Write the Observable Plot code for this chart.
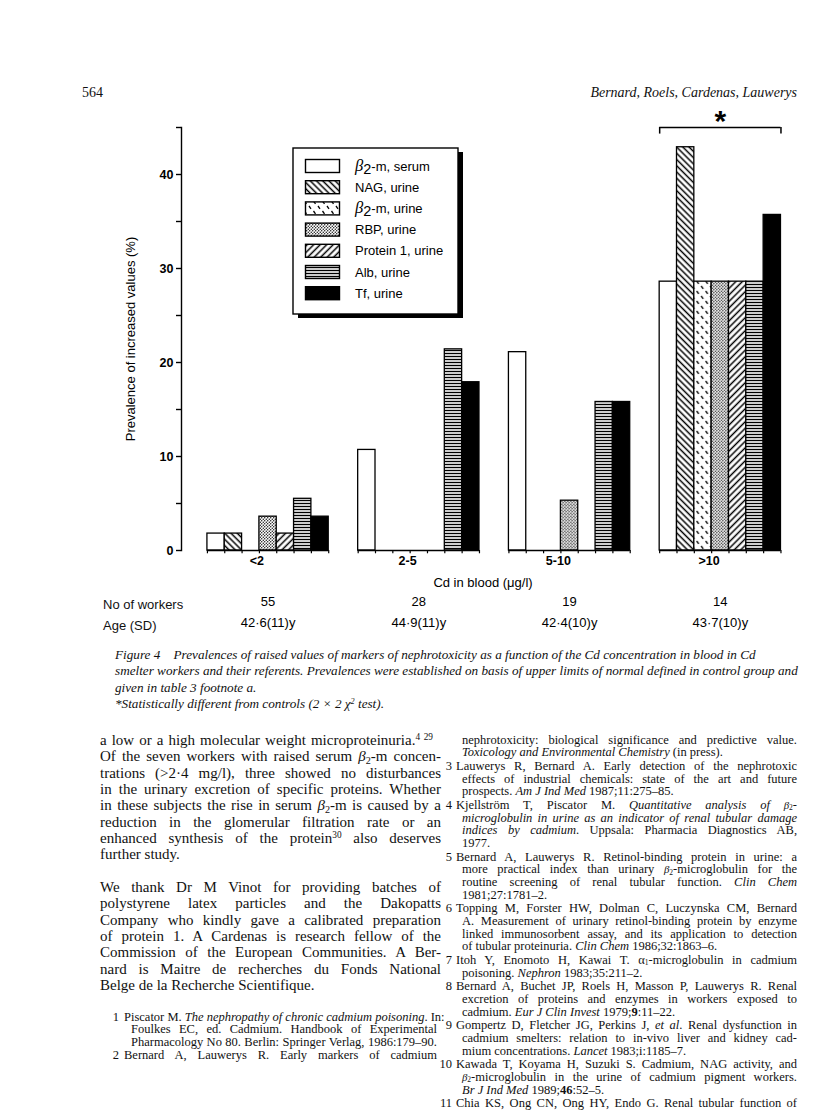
<!DOCTYPE html>
<html><head><meta charset="utf-8">
<script src="https://cdn.jsdelivr.net/npm/d3@7"></script>
<script src="https://cdn.jsdelivr.net/npm/@observablehq/plot@0.6"></script>
<style>
body{margin:0;background:#fff;}
#page{position:relative;width:816px;height:1114px;overflow:hidden;background:#fff;color:#111;}
.ln{position:absolute;white-space:nowrap;}
.serif{font-family:"Liberation Serif","DejaVu Serif",serif;}
.sans{font-family:"Liberation Sans",Arial,sans-serif;}
.j{text-align:justify;text-align-last:justify;}
sub{font-size:0.68em;vertical-align:baseline;position:relative;top:0.28em;line-height:0;}
sup{font-size:0.62em;vertical-align:baseline;position:relative;top:-0.55em;line-height:0;}
.z{display:inline-block;height:0;line-height:0;}
.rf .gb{font-size:0.86em;}
.rf sub{font-size:0.6em;top:0.18em;}
#chart{position:absolute;left:0;top:100px;}
</style></head><body><div id="page"></div>
<script>
// ---- data ----
const groups = ["<2", "2-5", "5-10", ">10"];
const series = ["β2-m, serum", "NAG, urine", "β2-m, urine", "RBP, urine", "Protein 1, urine", "Alb, urine", "Tf, urine"];
const serumB2m = [1.8, 10.7, 21.1, 28.6];
const urineNAG = [1.8, 0, 0, 42.9];
const urineB2m = [0, 0, 0, 28.6];
const urineRBP = [3.6, 0, 5.3, 28.6];
const urineP1 = [1.8, 0, 0, 28.6];
const urineAlb = [5.5, 21.4, 15.8, 28.6];
const urineTf = [3.6, 17.9, 15.8, 35.7];
const workers = [55, 28, 19, 14];
const ages = ["42·6(11)y", "44·9(11)y", "42·4(10)y", "43·7(10)y"];
const yTicks = [0, 5, 10, 15, 20, 25, 30, 35, 40, 45];
const yTickLabels = [0, 10, 20, 30, 40];
const signifGroup = ">10";
const yTitle = "Prevalence of increased values (%)";
const xTitle = "Cd in blood (μg/l)";

const valueArrays = [serumB2m, urineNAG, urineB2m, urineRBP, urineP1, urineAlb, urineTf];
const table = [];
series.forEach((s, i) => groups.forEach((g, j) => table.push({group: g, series: s, value: valueArrays[i][j]})));
const fills = ["#fff", "url(#pNAG)", "url(#pB2U)", "url(#pRBP)", "url(#pP1)", "url(#pALB)", "#000"];

const page = document.getElementById("page");

// ---- patterns + legend (d3) ----
const lsvg = d3.select(page).append("svg").attr("width", 190).attr("height", 190)
  .style("position", "absolute").style("left", "285px").style("top", "140px").style("z-index", 2);
const defs = lsvg.append("defs");
function linePattern(id, angle, sp, sw) {
  const p = defs.append("pattern").attr("id", id).attr("patternUnits", "userSpaceOnUse")
    .attr("width", sp).attr("height", sp).attr("patternTransform", `rotate(${angle})`);
  p.append("rect").attr("width", sp).attr("height", sp).attr("fill", "#fff");
  p.append("line").attr("x1", sp / 2).attr("x2", sp / 2).attr("y1", -1).attr("y2", sp + 1)
    .attr("stroke", "#000").attr("stroke-width", sw);
}
linePattern("pNAG", -45, 4.4, 1.5);
linePattern("pP1", 45, 4.6, 1.5);
{
  const p = defs.append("pattern").attr("id", "pALB").attr("patternUnits", "userSpaceOnUse").attr("width", 4).attr("height", 3);
  p.append("rect").attr("width", 4).attr("height", 3).attr("fill", "#fff");
  p.append("line").attr("x1", -1).attr("x2", 5).attr("y1", 1.5).attr("y2", 1.5).attr("stroke", "#000").attr("stroke-width", 1.4);
}
{
  const p = defs.append("pattern").attr("id", "pRBP").attr("patternUnits", "userSpaceOnUse").attr("width", 3).attr("height", 3);
  p.append("rect").attr("width", 3).attr("height", 3).attr("fill", "#fff");
  p.append("circle").attr("cx", 0.75).attr("cy", 0.75).attr("r", 0.7).attr("fill", "#000");
  p.append("circle").attr("cx", 2.25).attr("cy", 2.25).attr("r", 0.7).attr("fill", "#000");
}
{
  const p = defs.append("pattern").attr("id", "pB2U").attr("patternUnits", "userSpaceOnUse").attr("width", 9).attr("height", 10);
  p.append("rect").attr("width", 9).attr("height", 10).attr("fill", "#fff");
  p.append("line").attr("x1", 1.5).attr("y1", 1).attr("x2", 3.5).attr("y2", 3.8).attr("stroke", "#000").attr("stroke-width", 1.3);
  p.append("line").attr("x1", 6).attr("y1", 6).attr("x2", 8).attr("y2", 8.8).attr("stroke", "#000").attr("stroke-width", 1.3);
}
// legend box with shadow
lsvg.append("rect").attr("x", 13).attr("y", 12).attr("width", 165).attr("height", 166).attr("fill", "#000");
lsvg.append("rect").attr("x", 8).attr("y", 8).attr("width", 165).attr("height", 166).attr("fill", "#fff").attr("stroke", "#000").attr("stroke-width", 1.4);
series.forEach((s, i) => {
  const cy = 26 + 21.2 * i;
  lsvg.append("rect").attr("x", 20.5).attr("y", cy - 6.5).attr("width", 34).attr("height", 13)
    .attr("fill", fills[i]).attr("stroke", "#000").attr("stroke-width", 1.4);
  const t = lsvg.append("text").attr("x", 70).attr("y", cy + 4.5).attr("font-family", "Liberation Sans, Arial, sans-serif")
    .attr("font-size", 13).attr("fill", "#000");
  if (s.startsWith("β2")) {
    t.append("tspan").attr("font-family", "Liberation Serif, serif").attr("font-style", "italic").attr("font-size", 16.5).text("β");
    t.append("tspan").attr("font-size", 14.5).attr("dy", 3).text("2");
    t.append("tspan").attr("dy", -3).text(s.slice(2));
  } else t.text(s);
});

// ---- chart (Plot) ----
const W = 816, H = 540, ML = 181, MR = 32, MT = 27, MB = H - MT - 423;
const PO = 0.85, AL = 0.88;
const F = (W - ML - MR) / groups.length;
const step = F / (series.length + 2 * PO);
const SANS = "Liberation Sans, Arial, sans-serif";
const last = series[series.length - 1];

const chart = Plot.plot({
  width: W, height: H, marginLeft: ML, marginRight: MR, marginTop: MT, marginBottom: MB,
  style: {fontFamily: SANS, background: "transparent", color: "#000", overflow: "visible"},
  fx: {domain: groups, padding: 0, round: false},
  x: {domain: series, paddingInner: 0, paddingOuter: PO, align: AL, round: false, axis: null},
  y: {domain: [0, 45]},
  color: {domain: series, range: fills},
  marks: [
    Plot.frame({anchor: "left", facetAnchor: "left", strokeWidth: 1.4}),
    Plot.axisY({ticks: yTicks, tickSize: 5, tickPadding: 3, strokeWidth: 1.4,
      tickFormat: d => yTickLabels.includes(d) ? String(d) : "", fontWeight: "bold", fontSize: 12.5, label: null}),
    Plot.axisY({ticks: [], tickSize: 0, label: yTitle, labelAnchor: "center", labelArrow: "none", labelOffset: 56, fontSize: 13}),
    Plot.axisFx({anchor: "bottom", tickSize: 0, tickPadding: 6, fontWeight: "bold", fontSize: 12.5, label: null}),
    Plot.axisFx({anchor: "bottom", ticks: [], tickSize: 0, label: xTitle, labelAnchor: "center", labelArrow: "none", labelOffset: 36, fontSize: 13}),
    Plot.barY(table, {fx: "group", x: "series", y: "value", fill: "series", stroke: "#000", strokeWidth: 1.3}),
    Plot.ruleY(groups, {fx: d => d, x1: () => series[0], x2: () => last, y: 0, strokeWidth: 1.4}),
    Plot.ruleX(table, {fx: "group", x: "series", y1: 0, y2: -0.35, dx: -step / 2, strokeWidth: 1.2}),
    Plot.ruleX(groups, {fx: d => d, x: () => last, y1: 0, y2: -0.35, dx: step / 2, strokeWidth: 1.2}),
    Plot.ruleY([signifGroup], {fx: d => d, x1: () => series[0], x2: () => last, y: 45, strokeWidth: 1.5}),
    Plot.ruleX([signifGroup], {fx: d => d, x: () => series[0], y1: 45, y2: 44.3, dx: -step / 2, strokeWidth: 1.5}),
    Plot.ruleX([signifGroup], {fx: d => d, x: () => last, y1: 45, y2: 44.3, dx: step / 2, strokeWidth: 1.5}),
    Plot.text([signifGroup], {fx: d => d, x: () => series[3], y: 45.7, text: () => "*", fontSize: 30, fontWeight: "bold"}),
    Plot.text(groups, {fx: d => d, x: () => series[3], frameAnchor: "bottom", dy: 55, text: (d, i) => String(workers[i]), fontSize: 13}),
    Plot.text(groups, {fx: d => d, x: () => series[3], frameAnchor: "bottom", dy: 76, text: (d, i) => ages[i], fontSize: 13})
  ]
});
chart.id = "chart";
page.appendChild(chart);

// ---- page text ----
function line(html, x, y, o = {}) {
  const d = document.createElement("div");
  const lh = o.lh || 16;
  d.className = "ln " + (o.cls || "serif") + (o.w ? " j" : "");
  d.style.left = x + "px";
  d.style.top = (y - lh / 2) + "px";
  d.style.lineHeight = lh + "px";
  d.style.height = lh + "px";
  d.style.fontSize = (o.fs || 15) + "px";
  if (o.w) d.style.width = o.w + "px";
  if (o.italic) d.style.fontStyle = "italic";
  if (o.right) { d.style.left = ""; d.style.right = (816 - o.right) + "px"; }
  d.innerHTML = html;
  page.appendChild(d);
}
line("564", 82, 93, {fs: 14});
line("Bernard, Roels, Cardenas, Lauwerys", 0, 93, {fs: 14, italic: true, right: 797});
line("No of workers", 103, 605, {cls: "sans", fs: 13});
line("Age (SD)", 103, 626, {cls: "sans", fs: 13});

const cap = [
  "Figure 4&nbsp;&nbsp;&nbsp; Prevalences of raised values of markers of nephrotoxicity as a function of the Cd concentration in blood in Cd",
  "smelter workers and their referents. Prevalences were established on basis of upper limits of normal defined in control group and",
  "given in table 3 footnote a.",
  "*Statistically different from controls (2 × 2 χ<sup>2</sup> test)."
];
cap.forEach((t, i) => line(t, 115, 655 + 16.4 * i, {fs: 13.2, italic: true}));

const b2 = '<i class="z gb">β</i><sub class="z">2</sub>';
const leftBody = [
  ["a low or a high molecular weight microproteinuria.<sup>4 29</sup>", 333],
  ["Of the seven workers with raised serum " + b2 + "-m concen-", 341],
  ["trations (&gt;2·4 mg/l), three showed no disturbances", 341],
  ["in the urinary excretion of specific proteins. Whether", 341],
  ["in these subjects the rise in serum " + b2 + "-m is caused by a", 341],
  ["reduction in the glomerular filtration rate or an", 341],
  ["enhanced synthesis of the protein<sup>30</sup> also deserves", 341],
  ["further study.", 0]
];
leftBody.forEach(([t, w], i) => line(t, 100, 740 + 16.3 * i, {w, fs: 15}));
const leftBody2 = [
  ["We thank Dr M Vinot for providing batches of", 341],
  ["polystyrene latex particles and the Dakopatts", 341],
  ["Company who kindly gave a calibrated preparation", 341],
  ["of protein 1. A Cardenas is research fellow of the", 341],
  ["Commission of the European Communities. A Ber-", 341],
  ["nard is Maitre de recherches du Fonds National", 341],
  ["Belge de la Recherche Scientifique.", 0]
];
leftBody2.forEach(([t, w], i) => line(t, 100, 887 + 16.3 * i, {w, fs: 15}));

// references: [number or "", html, justify]
const RFS = 12.5;
function refs(list, numRight, xFirst, xCont, xEnd, y0, lh, gap) {
  let y = y0;
  list.forEach(([n, t, j], i) => {
    if (n && i > 0) y += gap;
    if (n) line(n, 0, y, {fs: RFS, right: numRight, lh: lh});
    const x = n ? xFirst : xCont;
    line('<span class="rf">' + t + '</span>', x, y, {fs: RFS, w: j ? xEnd - x : 0, lh: lh});
    y += lh;
  });
}
refs([
  ["1", "Piscator M. <i>The nephropathy of chronic cadmium poisoning</i>. In:", 1],
  ["", "Foulkes EC, ed. Cadmium. Handbook of Experimental", 1],
  ["", "Pharmacology No 80. Berlin: Springer Verlag, 1986:179–90.", 1],
  ["2", "Bernard A, Lauwerys R. Early markers of cadmium", 1]
], 119, 124, 131, 437, 1017, 12.7, 0);

refs([
  ["", "nephrotoxicity: biological significance and predictive value.", 1],
  ["", "<i>Toxicology and Environmental Chemistry</i> (in press).", 0],
  ["3", "Lauwerys R, Bernard A. Early detection of the nephrotoxic", 1],
  ["", "effects of industrial chemicals: state of the art and future", 1],
  ["", "prospects. <i>Am J Ind Med</i> 1987;11:275–85.", 0],
  ["4", "Kjellström T, Piscator M. <i>Quantitative analysis of</i> " + b2 + "<i>-</i>", 1],
  ["", "<i>microglobulin in urine as an indicator of renal tubular damage</i>", 1],
  ["", "<i>indices by cadmium</i>. Uppsala: Pharmacia Diagnostics AB,", 1],
  ["", "1977.", 0],
  ["5", "Bernard A, Lauwerys R. Retinol-binding protein in urine: a", 1],
  ["", "more practical index than urinary " + b2 + "-microglobulin for the", 1],
  ["", "routine screening of renal tubular function. <i>Clin Chem</i>", 1],
  ["", "1981;27:1781–2.", 0],
  ["6", "Topping M, Forster HW, Dolman C, Luczynska CM, Bernard", 1],
  ["", "A. Measurement of urinary retinol-binding protein by enzyme", 1],
  ["", "linked immunosorbent assay, and its application to detection", 1],
  ["", "of tubular proteinuria. <i>Clin Chem</i> 1986;32:1863–6.", 0],
  ["7", "Itoh Y, Enomoto H, Kawai T. α<sub class=\"z\">1</sub>-microglobulin in cadmium", 1],
  ["", "poisoning. <i>Nephron</i> 1983;35:211–2.", 0],
  ["8", "Bernard A, Buchet JP, Roels H, Masson P, Lauwerys R. Renal", 1],
  ["", "excretion of proteins and enzymes in workers exposed to", 1],
  ["", "cadmium. <i>Eur J Clin Invest</i> 1979;<b>9</b>:11–22.", 0],
  ["9", "Gompertz D, Fletcher JG, Perkins J, <i>et al</i>. Renal dysfunction in", 1],
  ["", "cadmium smelters: relation to in-vivo liver and kidney cad-", 1],
  ["", "mium concentrations. <i>Lancet</i> 1983;i:1185–7.", 0],
  ["10", "Kawada T, Koyama H, Suzuki S. Cadmium, NAG activity, and", 1],
  ["", b2 + "-microglobulin in the urine of cadmium pigment workers.", 1],
  ["", "<i>Br J Ind Med</i> 1989;<b>46</b>:52–5.", 0],
  ["11", "Chia KS, Ong CN, Ong HY, Endo G. Renal tubular function of", 1]
], 452, 456, 462, 797, 740, 12.6, 1.2);
</script></body></html>
